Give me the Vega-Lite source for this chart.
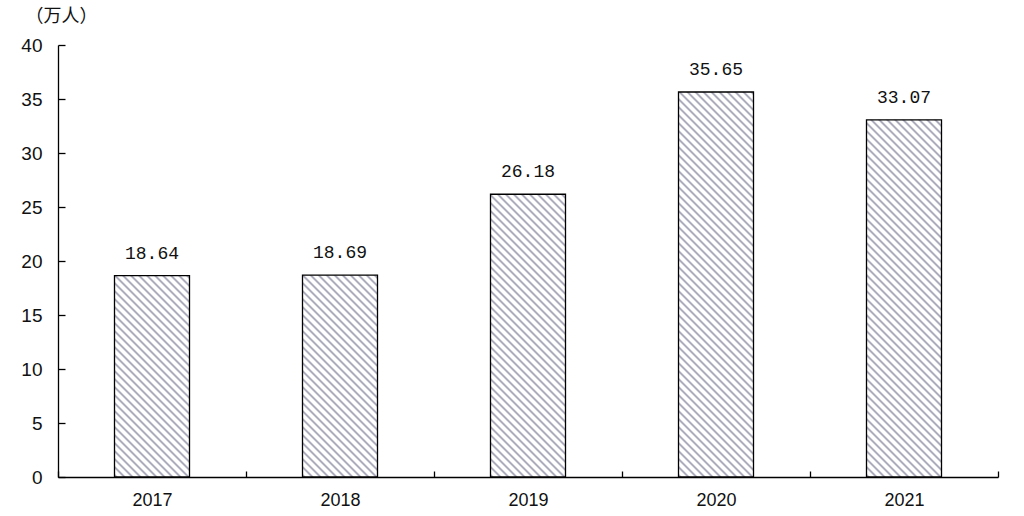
{
  "$schema": "https://vega.github.io/schema/vega-lite/v6.json",
  "width": 940,
  "height": 432,
  "autosize": {"type": "none"},
  "padding": {"left": 58, "top": 45, "right": 26, "bottom": 39},
  "background": "white",
  "config": {"view": {"stroke": null}},
  "params": [
    {
      "name": "hatch",
      "value": [
        {"offset": 0.0, "color": "#fff"}, {"offset": 0.0015, "color": "#acacbc"}, {"offset": 0.0035, "color": "#acacbc"}, {"offset": 0.005, "color": "#fff"},
        {"offset": 0.01, "color": "#fff"}, {"offset": 0.0115, "color": "#acacbc"}, {"offset": 0.0135, "color": "#acacbc"}, {"offset": 0.015, "color": "#fff"},
        {"offset": 0.02, "color": "#fff"}, {"offset": 0.0215, "color": "#acacbc"}, {"offset": 0.0235, "color": "#acacbc"}, {"offset": 0.025, "color": "#fff"},
        {"offset": 0.03, "color": "#fff"}, {"offset": 0.0315, "color": "#acacbc"}, {"offset": 0.0335, "color": "#acacbc"}, {"offset": 0.035, "color": "#fff"},
        {"offset": 0.04, "color": "#fff"}, {"offset": 0.0415, "color": "#acacbc"}, {"offset": 0.0435, "color": "#acacbc"}, {"offset": 0.045, "color": "#fff"},
        {"offset": 0.05, "color": "#fff"}, {"offset": 0.0515, "color": "#acacbc"}, {"offset": 0.0535, "color": "#acacbc"}, {"offset": 0.055, "color": "#fff"},
        {"offset": 0.06, "color": "#fff"}, {"offset": 0.0615, "color": "#acacbc"}, {"offset": 0.0635, "color": "#acacbc"}, {"offset": 0.065, "color": "#fff"},
        {"offset": 0.07, "color": "#fff"}, {"offset": 0.0715, "color": "#acacbc"}, {"offset": 0.0735, "color": "#acacbc"}, {"offset": 0.075, "color": "#fff"},
        {"offset": 0.08, "color": "#fff"}, {"offset": 0.0815, "color": "#acacbc"}, {"offset": 0.0835, "color": "#acacbc"}, {"offset": 0.085, "color": "#fff"},
        {"offset": 0.09, "color": "#fff"}, {"offset": 0.0915, "color": "#acacbc"}, {"offset": 0.0935, "color": "#acacbc"}, {"offset": 0.095, "color": "#fff"},
        {"offset": 0.10, "color": "#fff"}, {"offset": 0.1015, "color": "#acacbc"}, {"offset": 0.1035, "color": "#acacbc"}, {"offset": 0.105, "color": "#fff"},
        {"offset": 0.11, "color": "#fff"}, {"offset": 0.1115, "color": "#acacbc"}, {"offset": 0.1135, "color": "#acacbc"}, {"offset": 0.115, "color": "#fff"},
        {"offset": 0.12, "color": "#fff"}, {"offset": 0.1215, "color": "#acacbc"}, {"offset": 0.1235, "color": "#acacbc"}, {"offset": 0.125, "color": "#fff"},
        {"offset": 0.13, "color": "#fff"}, {"offset": 0.1315, "color": "#acacbc"}, {"offset": 0.1335, "color": "#acacbc"}, {"offset": 0.135, "color": "#fff"},
        {"offset": 0.14, "color": "#fff"}, {"offset": 0.1415, "color": "#acacbc"}, {"offset": 0.1435, "color": "#acacbc"}, {"offset": 0.145, "color": "#fff"},
        {"offset": 0.15, "color": "#fff"}, {"offset": 0.1515, "color": "#acacbc"}, {"offset": 0.1535, "color": "#acacbc"}, {"offset": 0.155, "color": "#fff"},
        {"offset": 0.16, "color": "#fff"}, {"offset": 0.1615, "color": "#acacbc"}, {"offset": 0.1635, "color": "#acacbc"}, {"offset": 0.165, "color": "#fff"},
        {"offset": 0.17, "color": "#fff"}, {"offset": 0.1715, "color": "#acacbc"}, {"offset": 0.1735, "color": "#acacbc"}, {"offset": 0.175, "color": "#fff"},
        {"offset": 0.18, "color": "#fff"}, {"offset": 0.1815, "color": "#acacbc"}, {"offset": 0.1835, "color": "#acacbc"}, {"offset": 0.185, "color": "#fff"},
        {"offset": 0.19, "color": "#fff"}, {"offset": 0.1915, "color": "#acacbc"}, {"offset": 0.1935, "color": "#acacbc"}, {"offset": 0.195, "color": "#fff"},
        {"offset": 0.20, "color": "#fff"}, {"offset": 0.2015, "color": "#acacbc"}, {"offset": 0.2035, "color": "#acacbc"}, {"offset": 0.205, "color": "#fff"},
        {"offset": 0.21, "color": "#fff"}, {"offset": 0.2115, "color": "#acacbc"}, {"offset": 0.2135, "color": "#acacbc"}, {"offset": 0.215, "color": "#fff"},
        {"offset": 0.22, "color": "#fff"}, {"offset": 0.2215, "color": "#acacbc"}, {"offset": 0.2235, "color": "#acacbc"}, {"offset": 0.225, "color": "#fff"},
        {"offset": 0.23, "color": "#fff"}, {"offset": 0.2315, "color": "#acacbc"}, {"offset": 0.2335, "color": "#acacbc"}, {"offset": 0.235, "color": "#fff"},
        {"offset": 0.24, "color": "#fff"}, {"offset": 0.2415, "color": "#acacbc"}, {"offset": 0.2435, "color": "#acacbc"}, {"offset": 0.245, "color": "#fff"},
        {"offset": 0.25, "color": "#fff"}, {"offset": 0.2515, "color": "#acacbc"}, {"offset": 0.2535, "color": "#acacbc"}, {"offset": 0.255, "color": "#fff"},
        {"offset": 0.26, "color": "#fff"}, {"offset": 0.2615, "color": "#acacbc"}, {"offset": 0.2635, "color": "#acacbc"}, {"offset": 0.265, "color": "#fff"},
        {"offset": 0.27, "color": "#fff"}, {"offset": 0.2715, "color": "#acacbc"}, {"offset": 0.2735, "color": "#acacbc"}, {"offset": 0.275, "color": "#fff"},
        {"offset": 0.28, "color": "#fff"}, {"offset": 0.2815, "color": "#acacbc"}, {"offset": 0.2835, "color": "#acacbc"}, {"offset": 0.285, "color": "#fff"},
        {"offset": 0.29, "color": "#fff"}, {"offset": 0.2915, "color": "#acacbc"}, {"offset": 0.2935, "color": "#acacbc"}, {"offset": 0.295, "color": "#fff"},
        {"offset": 0.30, "color": "#fff"}, {"offset": 0.3015, "color": "#acacbc"}, {"offset": 0.3035, "color": "#acacbc"}, {"offset": 0.305, "color": "#fff"},
        {"offset": 0.31, "color": "#fff"}, {"offset": 0.3115, "color": "#acacbc"}, {"offset": 0.3135, "color": "#acacbc"}, {"offset": 0.315, "color": "#fff"},
        {"offset": 0.32, "color": "#fff"}, {"offset": 0.3215, "color": "#acacbc"}, {"offset": 0.3235, "color": "#acacbc"}, {"offset": 0.325, "color": "#fff"},
        {"offset": 0.33, "color": "#fff"}, {"offset": 0.3315, "color": "#acacbc"}, {"offset": 0.3335, "color": "#acacbc"}, {"offset": 0.335, "color": "#fff"},
        {"offset": 0.34, "color": "#fff"}, {"offset": 0.3415, "color": "#acacbc"}, {"offset": 0.3435, "color": "#acacbc"}, {"offset": 0.345, "color": "#fff"},
        {"offset": 0.35, "color": "#fff"}, {"offset": 0.3515, "color": "#acacbc"}, {"offset": 0.3535, "color": "#acacbc"}, {"offset": 0.355, "color": "#fff"},
        {"offset": 0.36, "color": "#fff"}, {"offset": 0.3615, "color": "#acacbc"}, {"offset": 0.3635, "color": "#acacbc"}, {"offset": 0.365, "color": "#fff"},
        {"offset": 0.37, "color": "#fff"}, {"offset": 0.3715, "color": "#acacbc"}, {"offset": 0.3735, "color": "#acacbc"}, {"offset": 0.375, "color": "#fff"},
        {"offset": 0.38, "color": "#fff"}, {"offset": 0.3815, "color": "#acacbc"}, {"offset": 0.3835, "color": "#acacbc"}, {"offset": 0.385, "color": "#fff"},
        {"offset": 0.39, "color": "#fff"}, {"offset": 0.3915, "color": "#acacbc"}, {"offset": 0.3935, "color": "#acacbc"}, {"offset": 0.395, "color": "#fff"},
        {"offset": 0.40, "color": "#fff"}, {"offset": 0.4015, "color": "#acacbc"}, {"offset": 0.4035, "color": "#acacbc"}, {"offset": 0.405, "color": "#fff"},
        {"offset": 0.41, "color": "#fff"}, {"offset": 0.4115, "color": "#acacbc"}, {"offset": 0.4135, "color": "#acacbc"}, {"offset": 0.415, "color": "#fff"},
        {"offset": 0.42, "color": "#fff"}, {"offset": 0.4215, "color": "#acacbc"}, {"offset": 0.4235, "color": "#acacbc"}, {"offset": 0.425, "color": "#fff"},
        {"offset": 0.43, "color": "#fff"}, {"offset": 0.4315, "color": "#acacbc"}, {"offset": 0.4335, "color": "#acacbc"}, {"offset": 0.435, "color": "#fff"},
        {"offset": 0.44, "color": "#fff"}, {"offset": 0.4415, "color": "#acacbc"}, {"offset": 0.4435, "color": "#acacbc"}, {"offset": 0.445, "color": "#fff"},
        {"offset": 0.45, "color": "#fff"}, {"offset": 0.4515, "color": "#acacbc"}, {"offset": 0.4535, "color": "#acacbc"}, {"offset": 0.455, "color": "#fff"},
        {"offset": 0.46, "color": "#fff"}, {"offset": 0.4615, "color": "#acacbc"}, {"offset": 0.4635, "color": "#acacbc"}, {"offset": 0.465, "color": "#fff"},
        {"offset": 0.47, "color": "#fff"}, {"offset": 0.4715, "color": "#acacbc"}, {"offset": 0.4735, "color": "#acacbc"}, {"offset": 0.475, "color": "#fff"},
        {"offset": 0.48, "color": "#fff"}, {"offset": 0.4815, "color": "#acacbc"}, {"offset": 0.4835, "color": "#acacbc"}, {"offset": 0.485, "color": "#fff"},
        {"offset": 0.49, "color": "#fff"}, {"offset": 0.4915, "color": "#acacbc"}, {"offset": 0.4935, "color": "#acacbc"}, {"offset": 0.495, "color": "#fff"},
        {"offset": 0.50, "color": "#fff"}, {"offset": 0.5015, "color": "#acacbc"}, {"offset": 0.5035, "color": "#acacbc"}, {"offset": 0.505, "color": "#fff"},
        {"offset": 0.51, "color": "#fff"}, {"offset": 0.5115, "color": "#acacbc"}, {"offset": 0.5135, "color": "#acacbc"}, {"offset": 0.515, "color": "#fff"},
        {"offset": 0.52, "color": "#fff"}, {"offset": 0.5215, "color": "#acacbc"}, {"offset": 0.5235, "color": "#acacbc"}, {"offset": 0.525, "color": "#fff"},
        {"offset": 0.53, "color": "#fff"}, {"offset": 0.5315, "color": "#acacbc"}, {"offset": 0.5335, "color": "#acacbc"}, {"offset": 0.535, "color": "#fff"},
        {"offset": 0.54, "color": "#fff"}, {"offset": 0.5415, "color": "#acacbc"}, {"offset": 0.5435, "color": "#acacbc"}, {"offset": 0.545, "color": "#fff"},
        {"offset": 0.55, "color": "#fff"}, {"offset": 0.5515, "color": "#acacbc"}, {"offset": 0.5535, "color": "#acacbc"}, {"offset": 0.555, "color": "#fff"},
        {"offset": 0.56, "color": "#fff"}, {"offset": 0.5615, "color": "#acacbc"}, {"offset": 0.5635, "color": "#acacbc"}, {"offset": 0.565, "color": "#fff"},
        {"offset": 0.57, "color": "#fff"}, {"offset": 0.5715, "color": "#acacbc"}, {"offset": 0.5735, "color": "#acacbc"}, {"offset": 0.575, "color": "#fff"},
        {"offset": 0.58, "color": "#fff"}, {"offset": 0.5815, "color": "#acacbc"}, {"offset": 0.5835, "color": "#acacbc"}, {"offset": 0.585, "color": "#fff"}
      ]
    }
  ],
  "data": {
    "values": [
      {"year": "2017", "value": 18.64},
      {"year": "2018", "value": 18.69},
      {"year": "2019", "value": 26.18},
      {"year": "2020", "value": 35.65},
      {"year": "2021", "value": 33.07}
    ]
  },
  "encoding": {
    "x": {
      "field": "year",
      "type": "ordinal",
      "scale": {"paddingInner": 0, "paddingOuter": 0},
      "axis": {
        "title": null,
        "labelAngle": 0,
        "labelFont": "Liberation Sans",
        "labelFontSize": 18,
        "labelColor": "#111",
        "labelPadding": 20,
        "domainColor": "#000",
        "domainWidth": 1.3,
        "tickColor": "#000",
        "tickWidth": 1.3,
        "tickSize": -6,
        "tickBand": "extent"
      }
    },
    "y": {
      "field": "value",
      "type": "quantitative",
      "scale": {"domain": [0, 40], "nice": false},
      "axis": {
        "values": [0, 5, 10, 15, 20, 25, 30, 35, 40],
        "grid": false,
        "labelFont": "Liberation Sans",
        "labelFontSize": 19,
        "labelColor": "#111",
        "labelPadding": 23,
        "domainColor": "#000",
        "domainWidth": 1.3,
        "tickColor": "#000",
        "tickWidth": 1.3,
        "tickSize": -7,
        "title": "（万人）",
        "titleFont": "Noto Sans CJK SC",
        "titleFontSize": 18,
        "titleFontWeight": "normal",
        "titleColor": "#111",
        "titleAngle": 0,
        "titleAlign": "left",
        "titleBaseline": "middle",
        "titleX": -33,
        "titleY": -29
      }
    }
  },
  "layer": [
    {
      "transform": [{"filter": "datum.year == '2017'"}],
      "mark": {"type": "bar", "size": 75, "stroke": "#000", "strokeWidth": 1.3,
        "fill": {"expr": "{gradient: 'linear', x1: 0, y1: 1, x2: 1.3001, y2: -2.4895, stops: hatch}"}}
    },
    {
      "transform": [{"filter": "datum.year == '2018'"}],
      "mark": {"type": "bar", "size": 75, "stroke": "#000", "strokeWidth": 1.3,
        "fill": {"expr": "{gradient: 'linear', x1: 0, y1: 1, x2: 1.2940, y2: -2.4826, stops: hatch}"}}
    },
    {
      "transform": [{"filter": "datum.year == '2019'"}],
      "mark": {"type": "bar", "size": 75, "stroke": "#000", "strokeWidth": 1.3,
        "fill": {"expr": "{gradient: 'linear', x1: 0, y1: 1, x2: 0.7012, y2: -1.6435, stops: hatch}"}}
    },
    {
      "transform": [{"filter": "datum.year == '2020'"}],
      "mark": {"type": "bar", "size": 75, "stroke": "#000", "strokeWidth": 1.3,
        "fill": {"expr": "{gradient: 'linear', x1: 0, y1: 1, x2: 0.3900, y2: -1.0018, stops: hatch}"}}
    },
    {
      "transform": [{"filter": "datum.year == '2021'"}],
      "mark": {"type": "bar", "size": 75, "stroke": "#000", "strokeWidth": 1.3,
        "fill": {"expr": "{gradient: 'linear', x1: 0, y1: 1, x2: 0.4505, y2: -1.1453, stops: hatch}"}}
    },
    {
      "mark": {"type": "text", "baseline": "alphabetic", "dy": -17, "font": "Liberation Mono", "fontSize": 18, "color": "#111"},
      "encoding": {"text": {"field": "value", "type": "quantitative", "format": ".2f"}}
    }
  ]
}
